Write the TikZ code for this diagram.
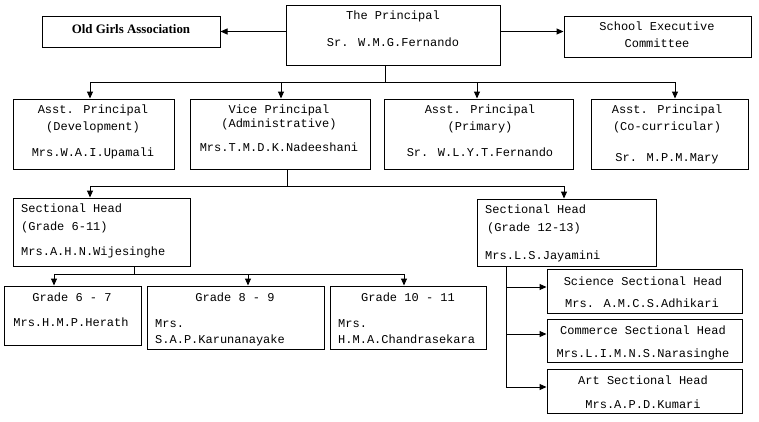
\documentclass[tikz,border=0pt]{standalone}
\usepackage{fontspec}
\newfontfamily\cour{Liberation Mono}
\newfontfamily\tnr{Liberation Serif}
\usetikzlibrary{arrows.meta,fit}
\tikzset{
  box/.style={draw, line width=1pt, inner sep=0pt},
  t/.style={inner sep=0pt, text height=8pt, text depth=2pt, font=\cour\fontsize{12}{14}\selectfont},
  tl/.style={t, anchor=west},
  ln/.style={line width=1pt},
  arr/.style={line width=1pt, -{Triangle[length=7pt,width=6pt]}}
}
\begin{document}
\begin{tikzpicture}[x=1pt,y=-1pt]
\useasboundingbox (0,0) rectangle (759,421);
\fill[white] (0,0) rectangle (759,421);
% boxes
\node[box, fit={(286,5) (500,65)}] (P) {};
\node[box, fit={(42,16) (220,47)}] (OGA) {};
\node[box, fit={(564,16) (751,57)}] (SEC) {};
\node[box, fit={(13,99) (174,169)}] (APD) {};
\node[box, fit={(190,99) (370,169)}] (VP) {};
\node[box, fit={(384,99) (573,169)}] (APP) {};
\node[box, fit={(591,99) (748,169)}] (APC) {};
\node[box, fit={(13,198) (190,266)}] (SH1) {};
\node[box, fit={(477,199) (656,266)}] (SH2) {};
\node[box, fit={(4,286) (141,345)}] (G1) {};
\node[box, fit={(147,286) (324,349)}] (G2) {};
\node[box, fit={(330,286) (486,349)}] (G3) {};
\node[box, fit={(547,269) (742,313)}] (SC) {};
\node[box, fit={(547,319) (742,362)}] (CO) {};
\node[box, fit={(547,369) (742,413)}] (AR) {};
% texts
\node[t] (Pt1) at (393,16) {The Principal};
\node[t] (Pt2) at (393,43) {Sr. W.M.G.Fernando};
\node[inner sep=0pt, font=\tnr\bfseries\fontsize{12.9}{14}\selectfont] (OGAt) at (131,29) {Old Girls Association};
\node[t] (SECt1) at (657,27) {School Executive};
\node[t] (SECt2) at (657,44) {Committee};
\node[t] (APDt1) at (93,110) {Asst. Principal};
\node[t] (APDt2) at (93,127) {(Development)};
\node[t] (APDt3) at (93,153) {Mrs.W.A.I.Upamali};
\node[t] (VPt1) at (279,110) {Vice Principal};
\node[t] (VPt2) at (279,124) {(Administrative)};
\node[t] (VPt3) at (279,148) {Mrs.T.M.D.K.Nadeeshani};
\node[t] (APPt1) at (480,110) {Asst. Principal};
\node[t] (APPt2) at (480,127) {(Primary)};
\node[t] (APPt3) at (480,153) {Sr. W.L.Y.T.Fernando};
\node[t] (APCt1) at (667,110) {Asst. Principal};
\node[t] (APCt2) at (667,127) {(Co-curricular)};
\node[t] (APCt3) at (667,158) {Sr. M.P.M.Mary};
\node[tl] (SH1t1) at (21,209) {Sectional Head};
\node[tl] (SH1t2) at (21,227) {(Grade 6-11)};
\node[tl] (SH1t3) at (21,252) {Mrs.A.H.N.Wijesinghe};
\node[tl] (SH2t1) at (485,210) {Sectional Head};
\node[tl] (SH2t2) at (487,228) {(Grade 12-13)};
\node[tl] (SH2t3) at (485,256) {Mrs.L.S.Jayamini};
\node[t] (G1t1) at (72,298) {Grade 6 - 7};
\node[t] (G1t2) at (71,323) {Mrs.H.M.P.Herath};
\node[t] (G2t1) at (235,298) {Grade 8 - 9};
\node[tl] (G2t2) at (155,324) {Mrs.};
\node[tl] (G2t3) at (155,340) {S.A.P.Karunanayake};
\node[t] (G3t1) at (408,298) {Grade 10 - 11};
\node[tl] (G3t2) at (338,324) {Mrs.};
\node[tl] (G3t3) at (338,340) {H.M.A.Chandrasekara};
\node[t] (SCt1) at (643,282) {Science Sectional Head};
\node[t] (SCt2) at (642,304) {Mrs. A.M.C.S.Adhikari};
\node[t] (COt1) at (643,331) {Commerce Sectional Head};
\node[t] (COt2) at (643,354) {Mrs.L.I.M.N.S.Narasinghe};
\node[t] (ARt1) at (643,381) {Art Sectional Head};
\node[t] (ARt2) at (643,405) {Mrs.A.P.D.Kumari};
% connectors level 0
\draw[arr] (P.west |- OGA.east) -- (OGA.east);
\draw[arr] (P.east |- OGA.east) -- (SEC.west |- OGA.east);
\coordinate (j0) at (385,82);
\coordinate (a1) at (90,82);
\coordinate (a2) at (281,82);
\coordinate (a3) at (477,82);
\coordinate (a4) at (675,82);
\draw[ln] (j0 |- P.south) -- (j0);
\draw[ln] (a1) -- (a4);
\draw[arr] (a1) -- (a1 |- APD.north);
\draw[arr] (a2) -- (a2 |- VP.north);
\draw[arr] (a3) -- (a3 |- APP.north);
\draw[arr] (a4) -- (a4 |- APC.north);
% VP to sectional heads
\coordinate (j1) at (287,186);
\coordinate (b1) at (90,186);
\coordinate (b2) at (564,186);
\draw[ln] (j1 |- VP.south) -- (j1);
\draw[ln] (b1) -- (b2);
\draw[arr] (b1) -- (b1 |- SH1.north);
\draw[arr] (b2) -- (b2 |- SH2.north);
% SH1 to grades
\coordinate (j2) at (134,274);
\coordinate (c1) at (54,274);
\coordinate (c2) at (248,274);
\coordinate (c3) at (404,274);
\draw[ln] (j2 |- SH1.south) -- (j2);
\draw[ln] (c1) -- (c3);
\draw[arr] (c1) -- (c1 |- G1.north);
\draw[arr] (c2) -- (c2 |- G2.north);
\draw[arr] (c3) -- (c3 |- G3.north);
% SH2 to subject heads
\coordinate (d0) at (506,387);
\coordinate (d1) at (506,287);
\coordinate (d2) at (506,334);
\draw[ln] (d0 |- SH2.south) -- (d0);
\draw[arr] (d1) -- (d1 -| SC.west);
\draw[arr] (d2) -- (d2 -| CO.west);
\draw[arr] (d0) -- (d0 -| AR.west);
\end{tikzpicture}
\end{document}
